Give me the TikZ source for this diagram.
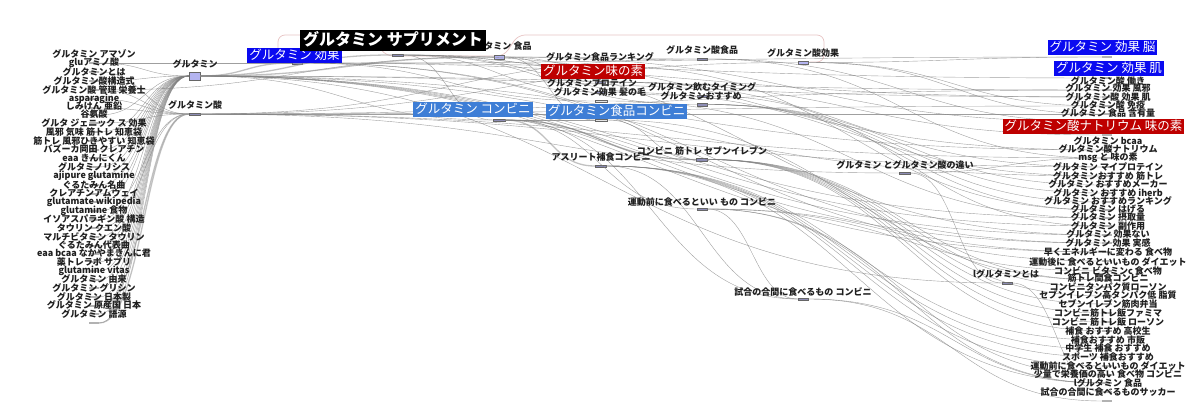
\documentclass[tikz,border=0pt]{standalone}
\usepackage{fontspec}
\setmainfont{Noto Sans CJK JP}
\usetikzlibrary{calc}
\definecolor{hblue}{RGB}{10,10,240}
\definecolor{lblue}{RGB}{62,126,214}
\definecolor{hred}{RGB}{190,0,0}
\definecolor{pinkl}{RGB}{232,196,196}
\definecolor{barf}{RGB}{140,140,180}
\definecolor{lav}{RGB}{180,180,240}
\newcommand\lk[3][]{\draw[lnk,#1] let \p1=(#2.east), \p2=(#3.west), \p3=($(\p1)!0.5!(\p2)$) in (\p1) .. controls (\x3,\y1) and (\x3,\y2) .. (\p2);}
\tikzset{
  lab/.style={font=\bfseries\fontsize{9}{10}\selectfont, inner sep=0pt, text=black!88},
  bar/.style={rectangle, draw=black!60, fill=barf, minimum width=10pt, minimum height=2.5pt, inner sep=0pt, line width=0.4pt},
  lbar/.style={rectangle, fill=gray!60, draw=none, minimum width=10pt, minimum height=1.2pt, inner sep=0pt},
  lnk/.style={draw=black!50, line width=0.4pt, opacity=0.75},
  tlnk/.style={draw=black!40, line width=1.3pt, opacity=0.6},
  hbox/.style={inner xsep=2pt, inner ysep=1pt, text=white, font=\fontsize{12.5}{13}\selectfont, text height=10.5pt, text depth=2.5pt},
}
\begin{document}
\begin{tikzpicture}[x=1pt,y=-1pt]
\fill[white] (0,0) rectangle (1200,403);
\path[use as bounding box] (0,0) rectangle (1200,403);
% pink highlight outline
\draw[pinkl, line width=0.7pt, rounded corners=7pt] (278,52) -- (278,35) -- (370,35) -- (386,56) -- (504,56) -- (518,35) -- (824,35) -- (824,62) -- (810,62);
% ---- bars (main nodes)
\node[bar, fill=lav, minimum width=11pt, minimum height=8pt] (gm) at (194.5,76) {};
\node[bar, minimum width=11pt] (gma) at (194.5,114) {};
\node[bar] (kk) at (297,63) {};
\node[bar, minimum width=11pt] (sp) at (397.5,55) {};
\node[bar, fill=lav, minimum height=4pt] (sh) at (499,57) {};
\node[bar, minimum width=12pt] (cv) at (499,120) {};
\node[bar] (rk) at (600,66) {};
\node[bar] (aj) at (600,82) {};
\node[bar] (pr) at (600,92) {};
\node[bar, minimum width=12pt, fill=gray!20] (hk) at (601,101) {};
\node[bar, minimum width=12pt, fill=gray!20] (scv) at (601,120) {};
\node[bar, minimum width=11pt] (ath) at (600.5,166) {};
\node[bar] (sr) at (702,59) {};
\node[bar] (nt) at (702,96) {};
\node[bar] (os) at (702,104.5) {};
\node[bar, minimum width=11pt] (ks) at (701.5,159.5) {};
\node[bar] (ud) at (702,209) {};
\node[bar, fill=lav, minimum height=3pt] (sk) at (803,62.5) {};
\node[bar] (sg) at (803,299) {};
\node[bar, minimum width=11pt] (ch) at (904.5,173) {};
\node[bar] (lt) at (1007,283) {};
% ---- left leaves
\foreach \i/\y/\t in {1/54/グルタミン アマゾン, 2/63/gluアミノ酸, 3/72/グルタミンとは, 4/81/グルタミン酸構造式, 5/90/グルタミン酸 管理 栄養士, 6/99/asparagine, 7/106/しみけん 亜鉛, 8/114/谷氨酸, 9/123/グルタ ジェニック ス 効果, 10/132/風邪 気味 筋トレ 知恵袋, 11/141/筋トレ 風邪ひきやすい 知恵袋, 12/149/バズーカ岡田 クレアチン, 13/158/eaa きんにくん, 14/167/グルタミノリシス, 15/176/ajipure glutamine, 16/185/ぐるたみん名曲, 17/193/クレアチンアムウェイ, 18/202/glutamate wikipedia, 19/211/glutamine 食物, 20/219/イソアスパラギン酸 構造, 21/228/タウリン クエン酸, 22/237/マルチビタミン タウリン, 23/245/ぐるたみん代表曲, 24/253/eaa bcaa なかやまきんに君, 25/262/薬トレラボ サプリ, 26/271/glutamine vitas, 27/279/グルタミン 由来, 28/288/グルタミン グリシン, 29/297/グルタミン 日本製, 30/305/グルタミン 原産国 日本, 31/314/グルタミン 語源}
  {\node[lbar] (L\i) at (94,\y+9) {};}
% ---- right leaves bars
\node[lbar] (R1) at (1107,57) {};
\node[lbar] (R2) at (1107,78) {};
\node[lbar] (R8) at (1107,135) {};
\foreach \i/\y in {3/81,4/88,5/97,6/105,7/113,9/141,10/149,11/158,12/167,13/176,14/184,15/193,16/201,17/209,18/217,19/226,20/234,21/243,22/252,23/262,24/271,25/278,26/287,27/295,28/304,29/313,30/322,31/331,32/340,33/348,34/357,35/366,36/374,37/383,38/392}
  {\node[lbar] (R\i) at (1107,\y+9) {};}
% ---- links
\foreach \a/\b in {L1/gm,L2/gma,L3/gm,L4/gma,L5/gma,L6/gma,L7/gm,L8/gma,L9/gm,L10/gm,L11/gm,L12/gm,L13/gm,L14/gm,L15/gm,L16/gm,L17/gm,L18/gma,L19/gm,L20/gma,L21/gm,L22/gm,L23/gm,L24/gm,L25/gm,L26/gm,L27/gm,L28/gm,L29/gm,L30/gm,L31/gm,L1/kk,L4/sh}
  {\lk{\a}{\b}}
\foreach \a/\b in {L29/gma,L31/gma}
  {\lk[tlnk]{\a}{\b}}
\foreach \a/\b in {gm/kk,gm/sp,gm/sh,cv/ks,cv/ath}
  {\lk[tlnk]{\a}{\b}}
\foreach \a/\b in {gm/cv,gm/lt,gma/sr,gma/sk,gma/ch,gma/R3,gma/R10,gma/R5,gma/R6,gma/R11,
  gm/R3,gm/R4,gm/R9,gm/R12,gm/R17,gm/R18,gm/R19,gm/R20,gm/R21,
  kk/hk,kk/R1,kk/R2,kk/R4,kk/R20,kk/R21,
  sp/rk,sp/pr,sp/os,sp/nt,sp/R9,sp/R19,sp/cv,
  sh/rk,sh/aj,sh/scv,sh/R7,sh/sr,
  cv/scv,cv/ks,cv/ud,cv/sg,
  aj/R8,aj/R11,pr/R12,hk/R17,os/R13,os/R14,os/R15,os/R16,nt/R18,
  scv/R24,scv/ks,
  ath/R31,ath/R32,ath/R33,ath/R34,ath/R36,ath/sg,
  ks/R25,ks/R26,ks/R27,ks/R28,ks/R29,ks/R30,ks/R24,
  ud/R22,ud/R23,ud/R35,ud/R36,ud/sg,
  sg/R36,sg/R38,sk/R5,sk/R6,sk/R1,sr/R7,sr/R10,
  ch/lt,ch/R10,lt/R37,rk/R16}
  {\lk{\a}{\b}}
% ---- small labels
\foreach \i/\y/\t in {1/54/グルタミン アマゾン, 2/63/gluアミノ酸, 3/72/グルタミンとは, 4/81/グルタミン酸構造式, 5/90/グルタミン酸 管理 栄養士, 6/99/asparagine, 7/106/しみけん 亜鉛, 8/114/谷氨酸, 9/123/グルタ ジェニック ス 効果, 10/132/風邪 気味 筋トレ 知恵袋, 11/141/筋トレ 風邪ひきやすい 知恵袋, 12/149/バズーカ岡田 クレアチン, 13/158/eaa きんにくん, 14/167/グルタミノリシス, 15/176/ajipure glutamine, 16/185/ぐるたみん名曲, 17/193/クレアチンアムウェイ, 18/202/glutamate wikipedia, 19/211/glutamine 食物, 20/219/イソアスパラギン酸 構造, 21/228/タウリン クエン酸, 22/237/マルチビタミン タウリン, 23/245/ぐるたみん代表曲, 24/253/eaa bcaa なかやまきんに君, 25/262/薬トレラボ サプリ, 26/271/glutamine vitas, 27/279/グルタミン 由来, 28/288/グルタミン グリシン, 29/297/グルタミン 日本製, 30/305/グルタミン 原産国 日本, 31/314/グルタミン 語源}
  {\node[lab] (tl\i) at (94,\y) {\t};}
\foreach \i/\y/\t in {3/81/グルタミン酸 働き, 4/88/グルタミン 効果 風邪, 5/97/グルタミン酸 効果 肌, 6/105/グルタミン酸 免疫, 7/113/グルタミン 食品 含有量, 9/141/グルタミン bcaa, 10/149/グルタミン酸ナトリウム, 11/158/msg と 味の素, 12/167/グルタミン マイプロテイン, 13/176/グルタミンおすすめ 筋トレ, 14/184/グルタミン おすすめメーカー, 15/193/グルタミン おすすめ iherb, 16/201/グルタミン おすすめランキング, 17/209/グルタミン はげる, 18/217/グルタミン 摂取量, 19/226/グルタミン 副作用, 20/234/グルタミン 効果ない, 21/243/グルタミン 効果 実感, 22/252/早くエネルギーに変わる 食べ物, 23/262/運動後に 食べるといいもの ダイエット, 24/271/コンビニ ビタミンc 食べ物, 25/278/筋トレ間食コンビニ, 26/287/コンビニタンパク質ローソン, 27/295/セブンイレブン高タンパク低 脂質, 28/304/セブンイレブン筋肉弁当, 29/313/コンビニ筋トレ飯ファミマ, 30/322/コンビニ 筋トレ飯 ローソン, 31/331/補食 おすすめ 高校生, 32/340/補食おすすめ 市販, 33/348/中学生 補食 おすすめ, 34/357/スポーツ 補食おすすめ, 35/366/運動前に食べるといいもの ダイエット, 36/374/少量で栄養価の高い 食べ物 コンビニ, 37/383/lグルタミン 食品, 38/392/試合の合間に食べるものサッカー}
  {\node[lab] (tr\i) at (1108,\y) {\t};}
\node[lab] (tgm) at (195,64) {グルタミン};
\node[lab] (tgma) at (195,105) {グルタミン酸};
\node[lab] (tsh) at (499,46) {グルタミン 食品};
\node[lab] (trk) at (600,57) {グルタミン食品ランキング};
\node[lab] (tsr) at (702,50) {グルタミン酸食品};
\node[lab] (tsk) at (803,53) {グルタミン酸効果};
\node[lab] (tpr) at (592,83) {グルタミンプロテイン};
\node[lab] (thk) at (600,92) {グルタミン効果 髪の毛};
\node[lab] (tnt) at (702,87) {グルタミン飲むタイミング};
\node[lab] (tos) at (701,96) {グルタミンおすすめ};
\node[lab] (tath) at (601,157) {アスリート補食コンビニ};
\node[lab] (tks) at (702,151) {コンビニ 筋トレ セブンイレブン};
\node[lab] (tch) at (905,165) {グルタミン とグルタミン酸の違い};
\node[lab] (tud) at (702,202) {運動前に食べるといい もの コンビニ};
\node[lab] (tsg) at (803,292) {試合の合間に食べるもの コンビニ};
\node[lab] (tlt) at (1006,274) {lグルタミンとは};
% ---- highlighted boxes
\node[hbox, fill=hblue] (bkk) at (294.5,55.5) {グルタミン 効果};
\node[hbox, fill=black, font=\bfseries\fontsize{16}{17}\selectfont, text height=14pt, text depth=3.5pt, inner xsep=3pt, inner ysep=1.5pt] (bsp) at (393,40.5) {グルタミン サプリメント};
\node[hbox, fill=hred] (baj) at (593,72) {グルタミン味の素};
\node[hbox, fill=lblue] (bcv) at (473,109.5) {グルタミン コンビニ};
\node[hbox, fill=lblue] (bscv) at (616.5,111.5) {グルタミン食品コンビニ};
\node[hbox, fill=hblue] (br1) at (1102.5,47.5) {グルタミン 効果 脳};
\node[hbox, fill=hblue] (br2) at (1109,68.5) {グルタミン 効果 肌};
\node[hbox, fill=hred] (br8) at (1093.5,126.5) {グルタミン酸ナトリウム 味の素};
\end{tikzpicture}
\end{document}
